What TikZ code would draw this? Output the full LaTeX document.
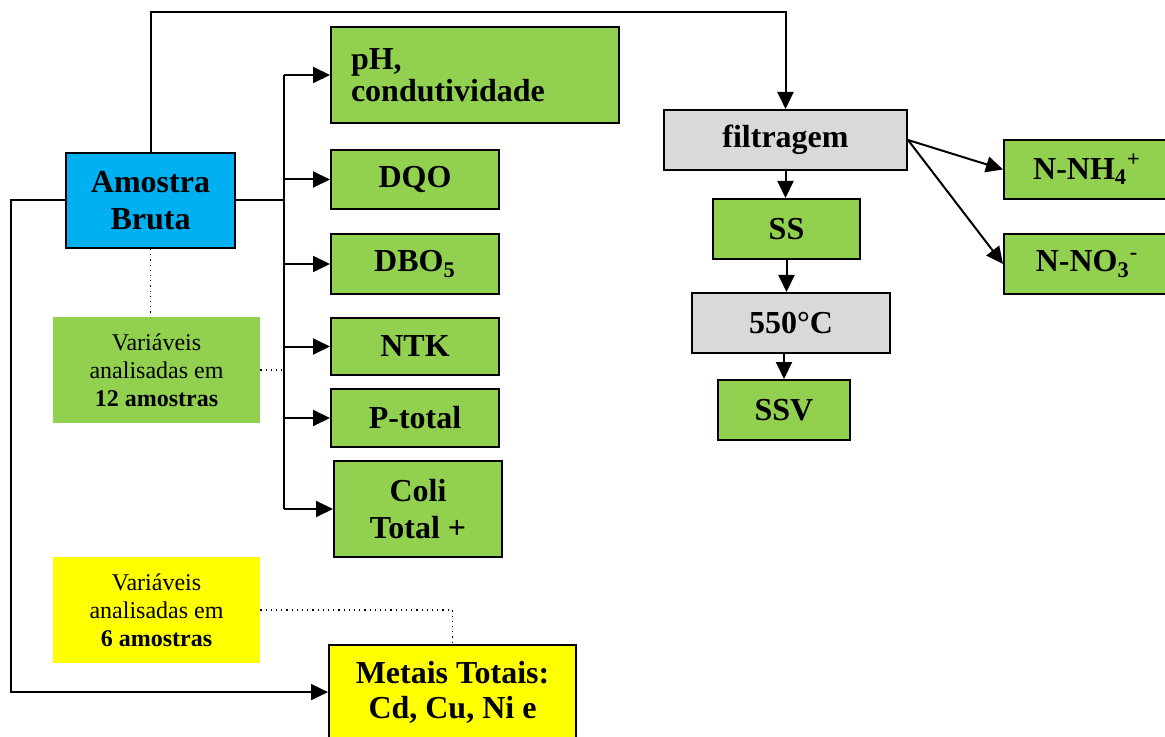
\documentclass[tikz,border=0pt]{standalone}
\usepackage{fontspec}
\setmainfont{Liberation Serif}
\usetikzlibrary{arrows.meta}

\definecolor{boxblue}{HTML}{00B0F0}
\definecolor{boxgreen}{HTML}{92D050}
\definecolor{boxgray}{HTML}{D9D9D9}
\definecolor{boxyellow}{HTML}{FFFF00}

\tikzset{
	box/.style={draw, line width=1pt, inner sep=0pt, align=center,
		font=\bfseries\fontsize{16}{18.5}\selectfont},
	greenbox/.style={box, fill=boxgreen},
	graybox/.style={box, fill=boxgray},
	note/.style={inner sep=0pt, align=center, minimum width=103.5pt, minimum height=53pt,
		font=\fontsize{12}{14}\selectfont},
	line/.style={line width=1pt},
	arr/.style={line, -{Triangle[length=8.5pt,width=8pt]}},
	dots/.style={dotted, line width=0.6pt}
}

\begin{document}
\begin{tikzpicture}[x=0.5pt,y=-0.5pt]

	\useasboundingbox (0,0) rectangle (1165,737);

	% amostra e variaveis
	\node[box, fill=boxblue, minimum width=84.5pt, minimum height=47.5pt] (amostra) at (150.5,200.5) {Amostra\\Bruta};
	\node[greenbox, minimum width=144pt, minimum height=48pt, text width=124pt, inner xsep=10pt, align=left,
		font=\bfseries\fontsize{16}{16}\selectfont] (ph) at (475,75) {pH,\\condutividade};
	\node[greenbox, minimum width=84pt, minimum height=29.5pt] (dqo) at (415,179.5) {DQO};
	\node[greenbox, minimum width=84pt, minimum height=30pt] (dbo) at (415,264) {DBO\textsubscript{5}};
	\node[greenbox, minimum width=84pt, minimum height=28.5pt] (ntk) at (415,346.5) {NTK};
	\node[greenbox, minimum width=84pt, minimum height=29pt] (ptot) at (415,418) {P-total};
	\node[greenbox, minimum width=84pt, minimum height=48pt] (coli) at (418,509) {Coli\\Total +};
	\node[box, fill=boxyellow, minimum width=123.5pt, inner ysep=8pt, anchor=north,
		font=\bfseries\fontsize{16}{17.5}\selectfont] (metais) at (452.5,644) {Metais Totais:\\Cd, Cu, Ni e};

	\node[note, fill=boxgreen] (gnote) at (156.5,370) {Variáveis\\analisadas em\\\textbf{12 amostras}};
	\node[note, fill=boxyellow] (ynote) at (156.5,610) {Variáveis\\analisadas em\\\textbf{6 amostras}};

	% filtragem
	\node[graybox, minimum width=121.5pt, minimum height=30pt] (filt) at (785.5,140) {filtragem};
	\node[greenbox, minimum width=73.5pt, minimum height=30pt] (ss) at (786.5,229) {SS};
	\node[graybox, minimum width=99pt, minimum height=30pt] (c550) at (791,323) {550°C};
	\node[greenbox, minimum width=66pt, minimum height=30pt] (ssv) at (784,410) {SSV};
	\node[greenbox, minimum width=83pt, minimum height=29.5pt] (nh4) at (1087,169.5) {N-NH\textsubscript{4}\textsuperscript{+}};
	\node[greenbox, minimum width=83pt, minimum height=30pt] (no3) at (1087,264) {N-NO\textsubscript{3}\textsuperscript{-}};

	\coordinate (trunk) at (284,0);
	\coordinate (toprow) at (0,12.5);
	\coordinate (leftcol) at (10.5,0);

	\draw[line] (amostra.east) -- (amostra.east -| trunk);
	\draw[line] (ph.west -| trunk) -- (coli.west -| trunk);
	\draw[arr] (ph.west -| trunk) -- (ph.west);
	\draw[arr] (dqo.west -| trunk) -- (dqo.west);
	\draw[arr] (dbo.west -| trunk) -- (dbo.west);
	\draw[arr] (ntk.west -| trunk) -- (ntk.west);
	\draw[arr] (ptot.west -| trunk) -- (ptot.west);
	\draw[arr] (coli.west -| trunk) -- (coli.west);

	\draw[arr] (amostra.north) -- (amostra.north |- toprow) -| (filt.north);
	\draw[arr] (amostra.west) -- (amostra.west -| leftcol) |- (metais.west);

	\draw[dots] (amostra.south) -- (amostra.south |- gnote.north);
	\draw[dots] (gnote.east) -- (gnote.east -| trunk);
	\draw[dots] (ynote.east) -| (metais.north);

	\draw[arr] (filt.south) -- (filt.south |- ss.north);
	\draw[arr] (ss.south) -- (ss.south |- c550.north);
	\draw[arr] (c550.south -| ssv.north) -- (ssv.north);
	\draw[arr] (filt.east) -- (nh4.west);
	\draw[arr] (filt.east) -- (no3.west);

\end{tikzpicture}
\end{document}
